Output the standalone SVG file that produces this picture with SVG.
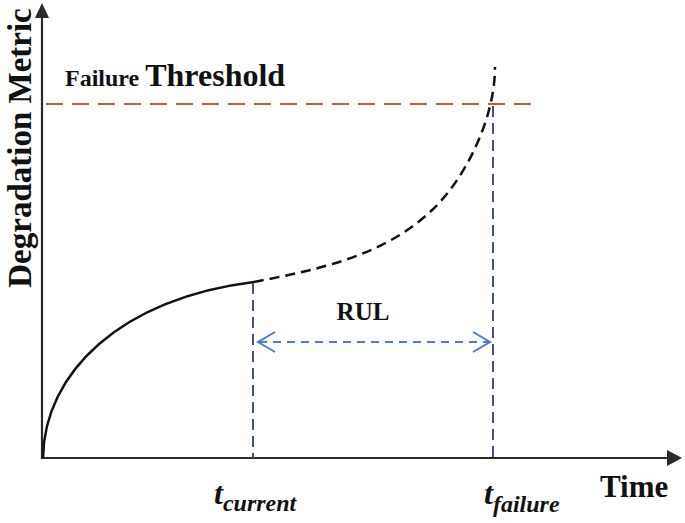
<svg xmlns="http://www.w3.org/2000/svg" width="685" height="523" viewBox="0 0 685 523">
<style>
.lbl{font-family:"Liberation Serif","Times New Roman",serif;font-weight:bold;fill:#111}
.it{font-style:italic}
.axis{stroke:#2a2a2a;stroke-width:2.2;fill:none}
.vline{stroke:#3f5480;stroke-width:2;stroke-dasharray:11 6;fill:none}
.rul{stroke:#4f7cc4;stroke-width:2;stroke-dasharray:8 6;fill:none}
.chev{stroke:#4f7cc4;stroke-width:2;fill:none}
</style>
<rect width="685" height="523" fill="#fff"/>
<g id="axes">
<line class="axis" x1="42" y1="459" x2="42" y2="16"/>
<polygon points="42,3 35,18 49,18" fill="#2a2a2a"/>
<line class="axis" x1="41" y1="458" x2="668" y2="458"/>
<polygon points="682,458 667,450 667,466" fill="#2a2a2a"/>
</g>
<g id="threshold">
<line x1="46" y1="104" x2="538" y2="104" stroke="#cd5a35" stroke-width="2" stroke-dasharray="17 9"/>
</g>
<g id="curves">
<path d="M43,458 C44,372 122,298 254,282" fill="none" stroke="#111" stroke-width="2.5"/>
<path d="M254,282 C319,269 400,255 450,190 C470,164 495,115 495,67" fill="none" stroke="#111" stroke-width="2.5" stroke-dasharray="10 6"/>
</g>
<g id="connectors">
<line class="vline" x1="253" y1="283" x2="253" y2="458"/>
<line class="vline" x1="493" y1="106" x2="493" y2="458"/>
<line class="rul" x1="259" y1="342" x2="490" y2="342"/>
<polyline class="chev" points="275,332 258,342 275,352"/>
<polyline class="chev" points="473,332 490,342 473,352"/>
</g>
<g id="labels">
<text class="lbl" transform="translate(31,148) rotate(-90)" text-anchor="middle" font-size="33">Degradation Metric</text>
<text class="lbl" x="65" y="86" font-size="24">Failure <tspan font-size="32">Threshold</tspan></text>
<text class="lbl" x="363" y="320" font-size="25" text-anchor="middle">RUL</text>
<text class="lbl it" x="214" y="504" font-size="32">t<tspan font-size="24" dy="7">current</tspan></text>
<text class="lbl it" x="484" y="504" font-size="32">t<tspan font-size="24" dy="8">failure</tspan></text>
<text class="lbl" x="600" y="497" font-size="31">Time</text>
</g>
</svg>
